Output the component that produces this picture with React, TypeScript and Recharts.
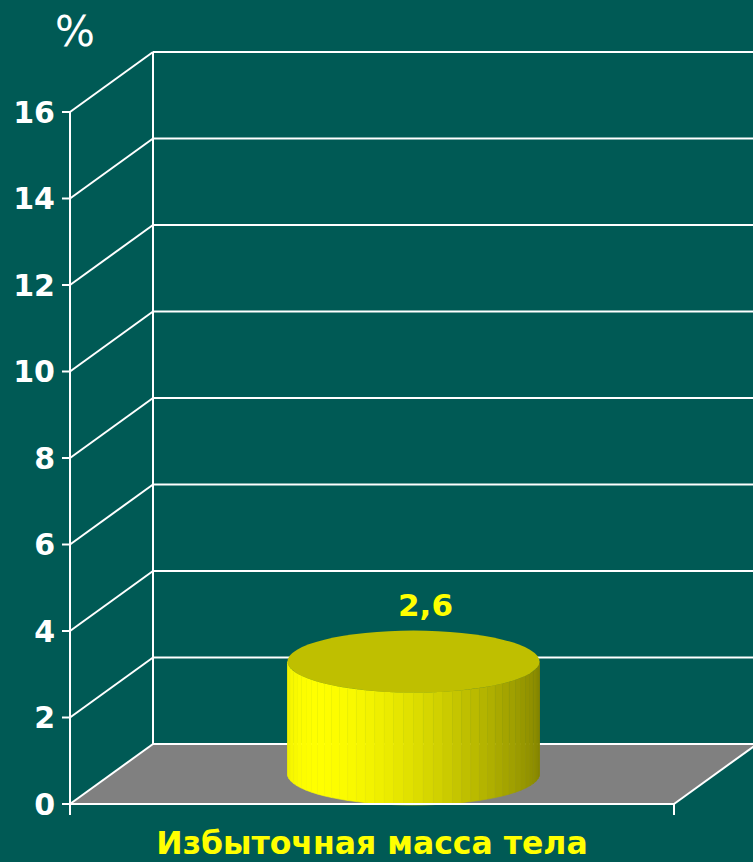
import React from 'react';
import { Bar, BarChart, CartesianGrid, LabelList, XAxis, YAxis } from 'recharts';

const categories = ['Избыточная масса тела'];
const values = [2.6];
const yTicks = [0, 2, 4, 6, 8, 10, 12, 14, 16];

const data = categories.map((name, i) => ({ name, value: values[i] }));

// depth of the 3D box (projection of the back wall)
const DX = 83;
const DY = -60;
const RY = 31;

const BG = '#005a55';
const FONT = '"DejaVu Sans", sans-serif';

function fmt(v: number) {
  return String(v).replace('.', ',');
}

function Cylinder(props: any) {
  const { x, y, width, height } = props;
  const rx = width / 2;
  const cx = x + rx + DX / 2;
  const top = y + DY / 2;
  const bot = y + height + DY / 2;
  const n = 40;
  const strips = [];
  for (let i = 0; i < n; i++) {
    const a0 = Math.PI - (i * Math.PI) / n;
    const a1 = Math.PI - ((i + 1) * Math.PI) / n;
    const mid = (a0 + a1) / 2;
    const h = (1 + Math.cos(mid - (140 * Math.PI) / 180)) / 2;
    const b = 0.5 + 0.5 * Math.pow(h, 1.5);
    const c = Math.round(255 * b);
    const col = `rgb(${c},${c},0)`;
    const x0 = cx + rx * Math.cos(a0);
    const x1 = cx + rx * Math.cos(a1);
    const s0 = RY * Math.sin(a0);
    const s1 = RY * Math.sin(a1);
    strips.push(
      <polygon
        key={i}
        points={`${x0},${top + s0} ${x1},${top + s1} ${x1},${bot + s1} ${x0},${bot + s0}`}
        fill={col}
        stroke={col}
        strokeWidth={0.6}
      />
    );
  }
  return (
    <g>
      {strips}
      <ellipse cx={cx} cy={top} rx={rx} ry={RY} fill="#bfbf00" />
    </g>
  );
}

function ValueLabel(props: any) {
  const { x, y, width, value } = props;
  return (
    <text
      x={x + width / 2 + DX / 2 + 12}
      y={y + DY / 2 - RY - 15}
      textAnchor="middle"
      fill="#ffff00"
      fontFamily={FONT}
      fontWeight="bold"
      fontSize={31}
    >
      {fmt(value)}
    </text>
  );
}

function CategoryTick(props: any) {
  const { x, y, payload } = props;
  return (
    <text x={x} y={y + 48} textAnchor="middle" fill="#ffff00" fontFamily={FONT} fontWeight="bold" fontSize={31.5}>
      {payload.value}
    </text>
  );
}

function HLine(p: any) {
  const { x1, x2, y1, index } = p;
  const bx = x1 + DX;
  const by = y1 + DY;
  if (index === 0) {
    return (
      <g key={`h-${index}`}>
        <polygon points={`${x1},${y1} ${bx},${by} ${x2 + DX},${by} ${x2},${y1}`} fill="#808080" />
        <line x1={bx} y1={by} x2={x2 + DX} y2={by} stroke="#fff" strokeWidth={2} />
        <line x1={x1} y1={y1} x2={bx} y2={by} stroke="#fff" strokeWidth={2} />
      </g>
    );
  }
  return (
    <g key={`h-${index}`}>
      <line x1={x1} y1={y1} x2={bx} y2={by} stroke="#fff" strokeWidth={2} />
      <line x1={bx} y1={by} x2={x2 + DX} y2={by} stroke="#fff" strokeWidth={2} />
    </g>
  );
}

function VLine(p: any) {
  const { x1, y1, y2, index } = p;
  if (index === 0) {
    return (
      <g key={`v-${index}`}>
        <line x1={x1 + DX} y1={y1 + DY} x2={x1 + DX} y2={y2 + DY} stroke="#fff" strokeWidth={2} />
        <line x1={x1} y1={y2} x2={x1} y2={y2 + 11} stroke="#fff" strokeWidth={2} />
      </g>
    );
  }
  return (
    <g key={`v-${index}`}>
      <line x1={x1} y1={y2} x2={x1 + DX} y2={y2 + DY} stroke="#fff" strokeWidth={2} />
      <line x1={x1} y1={y2} x2={x1} y2={y2 + 11} stroke="#fff" strokeWidth={2} />
    </g>
  );
}

export default function App() {
  return (
    <div style={{ position: 'relative', width: 753, height: 862, background: BG, overflow: 'hidden' }}>
      <style>{'body{margin:0}'}</style>
      <div
        style={{
          position: 'absolute',
          left: 55,
          top: 10,
          color: '#fff',
          fontFamily: '"DejaVu Sans", sans-serif',
          fontSize: 42,
          lineHeight: '44px',
        }}
      >
        %
      </div>
      <BarChart width={753} height={862} data={data} margin={{ top: 112, right: 79, bottom: 0, left: 0 }}>
        <CartesianGrid
          horizontal={HLine}
          vertical={VLine}
          verticalCoordinatesGenerator={({ offset }: any) => [offset.left, offset.left + offset.width]}
        />
        <XAxis
          dataKey="name"
          height={58}
          axisLine={{ stroke: '#fff', strokeWidth: 2 }}
          tickLine={false}
          tickSize={0}
          tick={<CategoryTick />}
        />
        <YAxis
          width={70}
          domain={[0, 16]}
          ticks={yTicks}
          interval={0}
          axisLine={{ stroke: '#fff', strokeWidth: 2 }}
          tickLine={{ stroke: '#fff', strokeWidth: 2 }}
          tickSize={8}
          tickMargin={7}
          tick={{ fill: '#fff', fontFamily: FONT, fontWeight: 'bold', fontSize: 30 }}
        />
        <Bar dataKey="value" barSize={252} shape={<Cylinder />} isAnimationActive={false}>
          <LabelList dataKey="value" content={<ValueLabel />} />
        </Bar>
      </BarChart>
    </div>
  );
}
